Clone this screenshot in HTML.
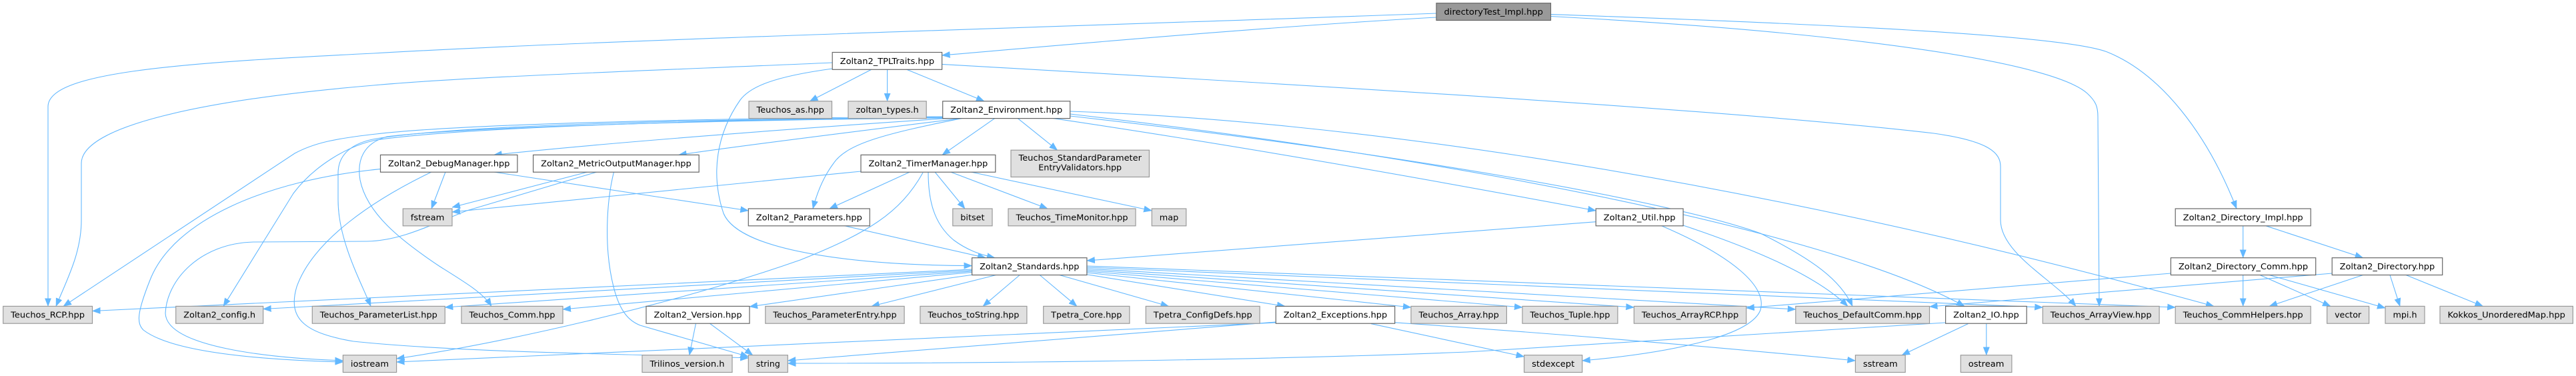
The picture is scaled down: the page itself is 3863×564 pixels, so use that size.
<!DOCTYPE html>
<html><head><meta charset="utf-8"><style>html,body{margin:0;padding:0;background:#fff;}svg{display:block}</style></head>
<body>
<svg xmlns="http://www.w3.org/2000/svg" width="3863" height="564" viewBox="0 0 3863 564">
<defs>
<marker id="a" markerUnits="userSpaceOnUse" markerWidth="12" markerHeight="10" refX="12" refY="5" orient="auto"><path d="M0,0.3 L12,5 L0,9.7 z" fill="#63b8ff" stroke="#63b8ff" stroke-width="0.5"/></marker>
<style>
.e path{fill:none;stroke:#63b8ff;stroke-width:1.1;marker-end:url(#a)}
.w{fill:#ffffff;stroke:#666666;stroke-width:1.2}
.g{fill:#e0e0e0;stroke:#999999;stroke-width:1.2}
.r{fill:#999999;stroke:#666666;stroke-width:1.2}
text{font-family:"DejaVu Sans","Liberation Sans",sans-serif;font-size:12.7px;fill:#000;text-anchor:middle}
</style>
</defs>
<rect width="3863" height="564" fill="#fff"/>
<g class="e">
<path d="M2154,26 C1900,40 1600,67 1412.6,83"/>
<path d="M2154,20 C1600,40 900,60 560,80 C250,95 72,110 72,160 L72,459.4"/>
<path d="M2325.5,24.5 C2800,50 3080,95 3130,140 C3143,152 3146,160 3146,175 L3148,459.4"/>
<path d="M2325.5,21.6 C2800,38 3100,55 3160,78 C3240,110 3310,200 3354,313"/>
<path d="M1248.2,94 C1000,105 700,115 560,128 C300,150 122,190 122,245 L122,330 C122,380 100,420 84,459.4"/>
<path d="M1306.8,104.3 L1214.4,151.8"/>
<path d="M1330.6,104.3 L1330.6,151.8"/>
<path d="M1359.7,104.3 L1475.9,151.8"/>
<path d="M1248.2,103 C1160,115 1125,130 1110,150 C1075,200 1065,260 1085,320 C1110,380 1300,398 1457.6,398.6"/>
<path d="M1412.6,96.4 C2000,130 2600,165 2900,200 C2985,212 3000,230 3000,250 L3000,330 C3000,380 3080,420 3113,459.4"/>
<path d="M1413.7,175 C1100,177 700,185 564,201 C500,208 470,215 442,230 L95,459.4"/>
<path d="M1413.7,176 C1100,179 700,190 564,210 C520,219 470,250 440,290 L335,459.4"/>
<path d="M1413.7,176.5 C1100,178 700,186 564,208 C530,214 507,230 507,260 L507,300 C507,360 540,420 556,459.4"/>
<path d="M1413.7,177 C1100,180 700,190 580,205 C545,215 535,240 540,270 C550,320 600,360 660,400 C700,425 725,440 737,459.4"/>
<path d="M1424,177.3 C1200,192 900,215 740.6,232.4"/>
<path d="M1443.5,177.3 C1300,195 1100,220 1017.6,232.4"/>
<path d="M1443.5,177.3 C1330,200 1270,215 1250,245 C1235,265 1225,290 1219,313"/>
<path d="M1492,177.3 L1413,232.4"/>
<path d="M1526,177.3 L1585.6,225.2"/>
<path d="M1578,177.3 C1900,225 2200,280 2393.2,316"/>
<path d="M1604.7,171 C2200,240 2750,350 2946,459.4"/>
<path d="M1604.7,174 C2100,230 2500,300 2640,350 C2720,390 2760,420 2778,459.4"/>
<path d="M1604.7,167 C2000,180 2600,260 3320,459.4"/>
<path d="M668,258 L647,313"/>
<path d="M740.6,258 L1122.3,316"/>
<path d="M570.5,253.6 C400,270 260,330 225,420 C205,470 205,485 215,495 C260,530 400,540 514.4,543"/>
<path d="M647,258 C560,300 470,360 445,430 C430,480 460,500 530,512 C700,530 1000,532 1122.3,537"/>
<path d="M881,258 L678,311"/>
<path d="M895,258 L700,316 C640,340 600,361 550,362 L380,363 C300,365 250,420 248,470 C250,520 400,537 514.4,541"/>
<path d="M920.5,258 C910,300 905,370 920,430 C930,470 945,482 960,488 L1122.3,535"/>
<path d="M1291,257 L678,318"/>
<path d="M1364.4,258 L1243.9,313"/>
<path d="M1384,259 C1350,320 1300,350 1200,390 C1000,460 750,515 594.6,538"/>
<path d="M1392,258 C1392,300 1400,335 1430,360 C1450,375 1470,382 1492,386.7"/>
<path d="M1402,258 L1447,313"/>
<path d="M1425.5,258 L1571,313"/>
<path d="M1456,258 L1727.3,316"/>
<path d="M1265.5,338.5 L1478,386.7"/>
<path d="M2393.2,332.7 L1629.9,391"/>
<path d="M2524,338 C2620,370 2720,410 2771,459.4"/>
<path d="M2490,338 C2600,385 2650,430 2640,465 C2625,505 2500,530 2372.7,541"/>
<path d="M1457.6,404 L138.5,466.5"/>
<path d="M1457.6,405.5 L394.6,463.5"/>
<path d="M1457.6,407 L667.3,461"/>
<path d="M1457.6,408.5 L844,464"/>
<path d="M1459.7,412 L1124,460"/>
<path d="M1495.7,412 L1306.8,459.4"/>
<path d="M1529.8,412 L1474,459.4"/>
<path d="M1558.6,412 L1615,459.4"/>
<path d="M1587,412 L1752.6,459.4"/>
<path d="M1625,411 L1927,459.4"/>
<path d="M1629.9,409 L2116,461"/>
<path d="M1629.9,407 L2283,461"/>
<path d="M1629.9,405 L2450.4,461"/>
<path d="M1629.9,403 L2692.8,464"/>
<path d="M1629.9,401 L3063.3,461"/>
<path d="M1629.9,399 L3262.2,461"/>
<path d="M1913.3,484 L594.6,543"/>
<path d="M1913.3,483 L1181.3,541"/>
<path d="M2056,485.6 L2285.6,535"/>
<path d="M2091.7,483.8 C2400,505 2650,528 2782.4,541"/>
<path d="M2917.6,484 C2800,492 2400,515 2200,528 C1900,540 1500,545 1181.3,545"/>
<path d="M2951.4,485.6 L2852,532.7"/>
<path d="M2978.8,485.6 L2978.8,532.7"/>
<path d="M3363.7,338.8 L3363.7,386.7"/>
<path d="M3398,338.8 L3543.6,386.7"/>
<path d="M3255.4,410 L2618.7,462"/>
<path d="M3497.2,410 L2893.5,460"/>
<path d="M3363.7,412.5 L3363.7,459.4"/>
<path d="M3389,412.5 L3495,459.4"/>
<path d="M3403,412.5 L3577,462"/>
<path d="M3543.6,412.5 L3403,459.4"/>
<path d="M3584,412.5 L3599,459.4"/>
<path d="M3608,412.5 L3723.5,459.4"/>
<path d="M1043.5,485.2 L1033.8,532.7"/>
<path d="M1064.4,485.2 L1128.8,532.7"/>
</g>
<g>
<rect class="r" x="2154" y="4.7" width="171.5" height="25.8"/><text x="2239.75" y="22" textLength="148.5" lengthAdjust="spacingAndGlyphs">directoryTest_Impl.hpp</text>
<rect class="w" x="1248.2" y="78.5" width="164.4" height="25.8"/><text x="1330.4" y="95.8" textLength="141.4" lengthAdjust="spacingAndGlyphs">Zoltan2_TPLTraits.hpp</text>
<rect class="g" x="1123" y="151.8" width="124.5" height="25.8"/><text x="1185.25" y="169.1" textLength="101.5" lengthAdjust="spacingAndGlyphs">Teuchos_as.hpp</text>
<rect class="g" x="1272" y="151.8" width="117.2" height="25.8"/><text x="1330.6" y="169.1" textLength="94.2" lengthAdjust="spacingAndGlyphs">zoltan_types.h</text>
<rect class="w" x="1413.7" y="151.8" width="191" height="25.8"/><text x="1509.2" y="169.1" textLength="168" lengthAdjust="spacingAndGlyphs">Zoltan2_Environment.hpp</text>
<rect class="w" x="570.5" y="232.4" width="205.4" height="25.8"/><text x="673.2" y="249.7" textLength="182.4" lengthAdjust="spacingAndGlyphs">Zoltan2_DebugManager.hpp</text>
<rect class="w" x="799.6" y="232.4" width="248.6" height="25.8"/><text x="923.9" y="249.7" textLength="225.6" lengthAdjust="spacingAndGlyphs">Zoltan2_MetricOutputManager.hpp</text>
<rect class="w" x="1291" y="232.4" width="201.8" height="25.8"/><text x="1391.9" y="249.7" textLength="178.8" lengthAdjust="spacingAndGlyphs">Zoltan2_TimerManager.hpp</text>
<rect class="g" x="1516" y="225.2" width="207.4" height="40.3"/><text x="1619.7" y="240.9" textLength="184.4" lengthAdjust="spacingAndGlyphs">Teuchos_StandardParameter</text><text x="1619.7" y="255.6">EntryValidators.hpp</text>
<rect class="g" x="604.3" y="313" width="73.7" height="25.8"/><text x="641.15" y="330.3" textLength="50.7" lengthAdjust="spacingAndGlyphs">fstream</text>
<rect class="w" x="1122.3" y="313" width="182" height="25.8"/><text x="1213.3" y="330.3" textLength="159" lengthAdjust="spacingAndGlyphs">Zoltan2_Parameters.hpp</text>
<rect class="g" x="1428.8" y="313" width="59.2" height="25.8"/><text x="1458.4" y="330.3" textLength="36.2" lengthAdjust="spacingAndGlyphs">bitset</text>
<rect class="g" x="1512" y="313" width="191" height="25.8"/><text x="1607.5" y="330.3" textLength="168" lengthAdjust="spacingAndGlyphs">Teuchos_TimeMonitor.hpp</text>
<rect class="g" x="1727.3" y="313" width="51.5" height="25.8"/><text x="1753.05" y="330.3" textLength="28.5" lengthAdjust="spacingAndGlyphs">map</text>
<rect class="w" x="2393.2" y="313" width="130.9" height="25.8"/><text x="2458.65" y="330.3" textLength="107.9" lengthAdjust="spacingAndGlyphs">Zoltan2_Util.hpp</text>
<rect class="w" x="3262.2" y="313" width="203" height="25.8"/><text x="3363.7" y="330.3" textLength="180" lengthAdjust="spacingAndGlyphs">Zoltan2_Directory_Impl.hpp</text>
<rect class="w" x="1457.6" y="386.7" width="172.3" height="25.8"/><text x="1543.75" y="404" textLength="149.3" lengthAdjust="spacingAndGlyphs">Zoltan2_Standards.hpp</text>
<rect class="w" x="3255.4" y="386.7" width="217.3" height="25.8"/><text x="3364.05" y="404" textLength="194.3" lengthAdjust="spacingAndGlyphs">Zoltan2_Directory_Comm.hpp</text>
<rect class="w" x="3497.2" y="386.7" width="165.5" height="25.8"/><text x="3579.95" y="404" textLength="142.5" lengthAdjust="spacingAndGlyphs">Zoltan2_Directory.hpp</text>
<rect class="g" x="4.7" y="459.4" width="133.8" height="25.8"/><text x="71.6" y="476.7" textLength="110.8" lengthAdjust="spacingAndGlyphs">Teuchos_RCP.hpp</text>
<rect class="g" x="263.7" y="459.4" width="130.9" height="25.8"/><text x="329.15" y="476.7" textLength="107.9" lengthAdjust="spacingAndGlyphs">Zoltan2_config.h</text>
<rect class="g" x="468.3" y="459.4" width="199" height="25.8"/><text x="567.8" y="476.7" textLength="176" lengthAdjust="spacingAndGlyphs">Teuchos_ParameterList.hpp</text>
<rect class="g" x="692" y="459.4" width="152" height="25.8"/><text x="768" y="476.7" textLength="129" lengthAdjust="spacingAndGlyphs">Teuchos_Comm.hpp</text>
<rect class="w" x="969" y="459.4" width="155" height="25.8"/><text x="1046.5" y="476.7" textLength="132" lengthAdjust="spacingAndGlyphs">Zoltan2_Version.hpp</text>
<rect class="g" x="1147.8" y="459.4" width="208.3" height="25.8"/><text x="1251.95" y="476.7" textLength="185.3" lengthAdjust="spacingAndGlyphs">Teuchos_ParameterEntry.hpp</text>
<rect class="g" x="1379.9" y="459.4" width="160" height="25.8"/><text x="1459.9" y="476.7" textLength="137" lengthAdjust="spacingAndGlyphs">Teuchos_toString.hpp</text>
<rect class="g" x="1564.7" y="459.4" width="129.2" height="25.8"/><text x="1629.3" y="476.7" textLength="106.2" lengthAdjust="spacingAndGlyphs">Tpetra_Core.hpp</text>
<rect class="g" x="1718.3" y="459.4" width="170.9" height="25.8"/><text x="1803.75" y="476.7" textLength="147.9" lengthAdjust="spacingAndGlyphs">Tpetra_ConfigDefs.hpp</text>
<rect class="w" x="1913.3" y="459.4" width="178.4" height="25.8"/><text x="2002.5" y="476.7" textLength="155.4" lengthAdjust="spacingAndGlyphs">Zoltan2_Exceptions.hpp</text>
<rect class="g" x="2116" y="459.4" width="143.4" height="25.8"/><text x="2187.7" y="476.7" textLength="120.4" lengthAdjust="spacingAndGlyphs">Teuchos_Array.hpp</text>
<rect class="g" x="2283" y="459.4" width="142.9" height="25.8"/><text x="2354.45" y="476.7" textLength="119.9" lengthAdjust="spacingAndGlyphs">Teuchos_Tuple.hpp</text>
<rect class="g" x="2450.4" y="459.4" width="168.3" height="25.8"/><text x="2534.55" y="476.7" textLength="145.3" lengthAdjust="spacingAndGlyphs">Teuchos_ArrayRCP.hpp</text>
<rect class="g" x="2692.8" y="459.4" width="200.7" height="25.8"/><text x="2793.15" y="476.7" textLength="177.7" lengthAdjust="spacingAndGlyphs">Teuchos_DefaultComm.hpp</text>
<rect class="w" x="2917.6" y="459.4" width="121.6" height="25.8"/><text x="2978.4" y="476.7" textLength="98.6" lengthAdjust="spacingAndGlyphs">Zoltan2_IO.hpp</text>
<rect class="g" x="3063.3" y="459.4" width="174.8" height="25.8"/><text x="3150.7" y="476.7" textLength="151.8" lengthAdjust="spacingAndGlyphs">Teuchos_ArrayView.hpp</text>
<rect class="g" x="3262.2" y="459.4" width="203" height="25.8"/><text x="3363.7" y="476.7" textLength="180" lengthAdjust="spacingAndGlyphs">Teuchos_CommHelpers.hpp</text>
<rect class="g" x="3489.6" y="459.4" width="63" height="25.8"/><text x="3521.1" y="476.7" textLength="40" lengthAdjust="spacingAndGlyphs">vector</text>
<rect class="g" x="3577" y="459.4" width="59" height="25.8"/><text x="3606.5" y="476.7" textLength="36" lengthAdjust="spacingAndGlyphs">mpi.h</text>
<rect class="g" x="3659" y="459.4" width="199.4" height="25.8"/><text x="3758.7" y="476.7" textLength="176.4" lengthAdjust="spacingAndGlyphs">Kokkos_UnorderedMap.hpp</text>
<rect class="g" x="514.4" y="532.7" width="80.2" height="25.8"/><text x="554.5" y="550" textLength="57.2" lengthAdjust="spacingAndGlyphs">iostream</text>
<rect class="g" x="963" y="532.7" width="135" height="25.8"/><text x="1030.5" y="550" textLength="112" lengthAdjust="spacingAndGlyphs">Trilinos_version.h</text>
<rect class="g" x="1122.3" y="532.7" width="59" height="25.8"/><text x="1151.8" y="550" textLength="36" lengthAdjust="spacingAndGlyphs">string</text>
<rect class="g" x="2285.6" y="532.7" width="87.1" height="25.8"/><text x="2329.15" y="550" textLength="64.1" lengthAdjust="spacingAndGlyphs">stdexcept</text>
<rect class="g" x="2782.4" y="532.7" width="74.8" height="25.8"/><text x="2819.8" y="550" textLength="51.8" lengthAdjust="spacingAndGlyphs">sstream</text>
<rect class="g" x="2940.3" y="532.7" width="76.6" height="25.8"/><text x="2978.6" y="550" textLength="53.6" lengthAdjust="spacingAndGlyphs">ostream</text>
</g>
</svg>
</body></html>
